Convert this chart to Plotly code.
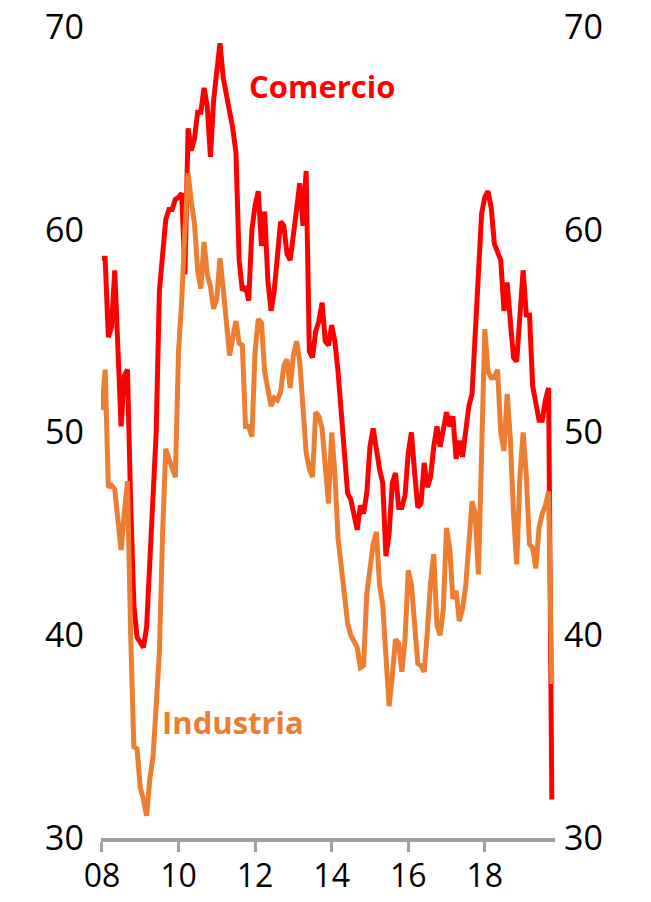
import plotly.graph_objects as go

# monthly readings, index 0 = first month of 2008
comercio = [58.6, 58.6, 54.7, 55.2, 58.0, 54.0, 50.3, 52.8, 53.1, 46.5,
            41.5, 39.9, 39.6, 39.4, 40.4, 43.4, 46.7, 50.0, 57.0, 58.8,
            60.5, 61.0, 61.0, 61.5, 61.6, 61.8, 57.8, 65.0, 63.9, 64.5,
            65.8, 65.8, 67.0, 66.1, 63.6, 66.4, 68.0, 69.2, 67.5, 66.7,
            66.1, 65.0, 63.8, 58.5, 57.0, 57.2, 56.5, 60.0, 61.2, 61.9,
            59.2, 60.9, 57.5, 56.0, 57.0, 59.0, 60.4, 60.2, 58.8, 58.5,
            60.0, 61.0, 62.3, 60.2, 62.9, 54.0, 53.7, 55.0, 55.5, 56.4,
            54.5, 54.3, 55.3, 54.5, 53.0, 51.0, 49.4, 47.0, 46.7, 46.0,
            45.2, 46.4, 46.0, 47.0, 49.3, 50.2, 49.0, 48.2, 47.5, 43.9,
            45.0, 47.5, 48.0, 46.3, 46.3, 46.9, 49.0, 50.0, 48.0, 46.3,
            46.5, 48.5, 47.3, 47.8, 49.3, 50.3, 49.3, 50.2, 51.0, 50.3,
            50.8, 48.7, 49.6, 48.8, 50.0, 51.3, 51.9, 55.0, 58.8, 60.8,
            61.6, 61.9, 61.1, 59.3, 58.9, 58.5, 56.0, 57.4, 55.5, 53.7,
            53.5, 56.0, 58.0, 55.8, 55.8, 52.3, 51.3, 50.6, 50.6, 51.6,
            52.2, 31.9]

industria = [51.1, 53.1, 47.3, 47.4, 47.2, 45.5, 44.2, 46.0, 47.6, 40.0,
             34.5, 34.4, 32.5, 31.9, 31.1, 32.9, 34.0, 36.5, 39.2, 45.0,
             49.2, 48.7, 48.2, 47.8, 54.0, 56.5, 60.0, 62.8, 61.4, 60.3,
             58.0, 57.1, 59.4, 57.8, 57.2, 56.1, 56.6, 58.6, 57.1, 55.6,
             53.8, 54.7, 55.5, 54.4, 54.3, 50.3, 50.3, 49.8, 54.0, 55.6,
             55.4, 53.0, 52.0, 51.3, 51.7, 51.6, 52.0, 53.3, 53.6, 52.2,
             53.8, 54.5, 53.5, 51.5, 49.0, 48.2, 47.8, 51.0, 50.8, 50.2,
             48.0, 46.5, 50.0, 48.0, 44.8, 43.5, 42.0, 40.6, 40.0, 39.7,
             39.4, 38.4, 38.5, 42.0, 43.3, 44.5, 45.1, 42.5, 41.5, 39.0,
             36.5, 38.0, 39.8, 39.6, 38.2, 39.8, 43.2, 42.5, 40.6, 38.6,
             38.5, 38.2, 40.2, 42.6, 44.0, 40.5, 40.0, 41.3, 45.3, 44.3,
             41.8, 42.2, 40.7, 41.3, 42.4, 44.2, 46.6, 46.0, 43.0, 49.0,
             55.1, 53.0, 52.7, 52.7, 53.1, 50.0, 49.1, 51.9, 49.7, 46.0,
             43.5, 47.8, 50.0, 47.9, 44.5, 44.3, 43.3, 45.3, 46.0, 46.4,
             47.1, 37.6]

months = list(range(len(comercio)))
year_ticks = [0, 24, 48, 72, 96, 120]
year_labels = ["08", "10", "12", "14", "16", "18"]
y_ticks = [30, 40, 50, 60, 70]

RED = "#FF0000"
ORANGE = "#ED7D31"

fig = go.Figure()

fig.add_trace(go.Scatter(x=months, y=comercio, name="Comercio", mode="lines",
                         line=dict(color=RED, width=5)))
fig.add_trace(go.Scatter(x=months, y=industria, name="Industria", mode="lines",
                         line=dict(color=ORANGE, width=5), yaxis="y2"))

fig.add_annotation(x=69, y=67.1, text="<b>Comercio</b>", showarrow=False,
                   font=dict(color=RED, size=31, family="Open Sans"))
fig.add_annotation(x=41, y=35.7, text="<b>Industria</b>", showarrow=False,
                   font=dict(color=ORANGE, size=31, family="Open Sans"))

fig.update_layout(
    width=651, height=902,
    margin=dict(l=101, r=96, t=27, b=64),
    plot_bgcolor="white", paper_bgcolor="white",
    showlegend=False,
    font=dict(family="Open Sans", size=34, color="black"),
    xaxis=dict(range=[-0.3, 142], tickvals=year_ticks, ticktext=year_labels,
               showgrid=False, zeroline=False, showline=True, automargin=False,
               linecolor="#A0A0A0", linewidth=4, tickfont=dict(size=32),
               ticks="outside", ticklen=10, tickwidth=3, tickcolor="#A0A0A0",
               ticklabelstandoff=-3),
    yaxis=dict(range=[30, 70], tickvals=y_ticks, showgrid=False, automargin=False,
               zeroline=False, showline=False, ticks="",
               ticklabelstandoff=16),
    yaxis2=dict(range=[30, 70], tickvals=y_ticks, showgrid=False, automargin=False,
                zeroline=False, showline=False, ticks="",
                overlaying="y", side="right", ticklabelstandoff=8),
)

# drop the default 8px body margin so the figure fills the window exactly
fig.write_html("out.html", config={"displayModeBar": False},
               post_script="document.body.style.margin='0';")
